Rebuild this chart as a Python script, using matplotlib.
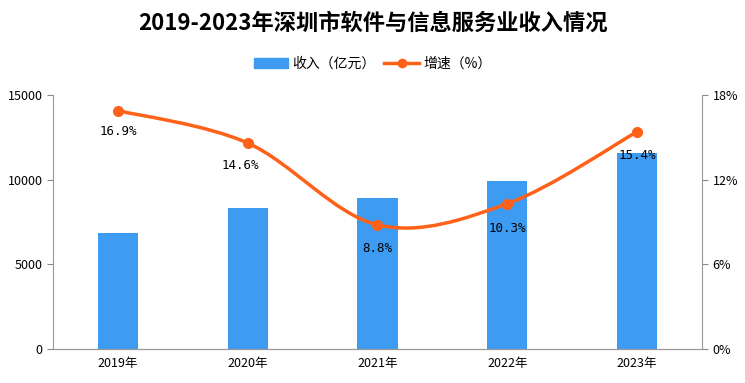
import numpy as np
import matplotlib.pyplot as plt
from matplotlib.path import Path
from matplotlib.patches import PathPatch
from matplotlib.lines import Line2D
from matplotlib.patches import Patch

plt.rcParams['font.family'] = ['Noto Sans CJK SC', 'DejaVu Sans']

# 数据
years = ['2019年', '2020年', '2021年', '2022年', '2023年']
revenue = [6850, 8330, 8920, 9920, 11580]
growth = [16.9, 14.6, 8.8, 10.3, 15.4]

bar_color = '#3d9bf2'
line_color = '#ff6119'

fig = plt.figure(figsize=(7.45, 3.83), dpi=100)
ax = fig.add_axes([0.0711, 0.0888, 0.8712, 0.663])
ax2 = ax.twinx()

x = np.arange(len(years))
ax.bar(x, revenue, width=0.31, color=bar_color, zorder=2)
ax.set_xlim(-0.5, len(years) - 0.5)
ax.set_ylim(0, 15000)
ax.set_yticks([0, 5000, 10000, 15000])
ax.set_xticks(x)
ax.set_xticklabels(years, fontsize=9)
ax.tick_params(axis='x', length=0, pad=6)
ax.tick_params(axis='y', labelsize=9, length=4, color='#888888', direction='out')

# 平滑曲线 (Catmull-Rom -> Bezier)
pts = list(zip(x, growth))
verts = [pts[0]]
codes = [Path.MOVETO]
for i in range(len(pts) - 1):
    p0 = pts[i - 1] if i > 0 else pts[i]
    p1 = pts[i]
    p2 = pts[i + 1]
    p3 = pts[i + 2] if i + 2 < len(pts) else pts[i + 1]
    c1 = (p1[0] + (p2[0] - p0[0]) / 6, p1[1] + (p2[1] - p0[1]) / 6)
    c2 = (p2[0] - (p3[0] - p1[0]) / 6, p2[1] - (p3[1] - p1[1]) / 6)
    verts += [c1, c2, p2]
    codes += [Path.CURVE4] * 3
ax2.add_patch(PathPatch(Path(verts, codes), fill=False, edgecolor=line_color, lw=2.5, zorder=3))
ax2.plot(x, growth, 'o', color=line_color, markersize=7, zorder=4)
ax2.set_ylim(0, 18)
ax2.set_yticks([0, 6, 12, 18])
ax2.set_yticklabels(['0%', '6%', '12%', '18%'])
ax2.tick_params(axis='y', labelsize=9, length=4, color='#888888', direction='out')

offsets = [-15, -16, -17, -18, -17]
dx = [0, -0.06, 0, 0, 0]
for xi, g, oy, ox in zip(x, growth, offsets, dx):
    ax2.annotate(f'{g}%', (xi + ox, g), xytext=(0, oy), textcoords='offset points',
                 ha='center', va='center', fontsize=9, family='DejaVu Sans Mono', zorder=5)

for a in (ax, ax2):
    a.spines['top'].set_visible(False)
    for s in ('left', 'right', 'bottom'):
        a.spines[s].set_color('#999999')
ax.spines['right'].set_visible(False)
ax2.spines['left'].set_visible(False)

fig.text(0.5, 0.94, '2019-2023年深圳市软件与信息服务业收入情况', ha='center', va='center',
         fontsize=16, fontweight='bold')

handles = [Patch(color=bar_color),
           Line2D([0], [0], color=line_color, lw=2.5, marker='o', markersize=6)]
fig.legend(handles, ['收入（亿元）', '增速（%）'], loc='center', bbox_to_anchor=(0.5, 0.833),
           ncol=2, frameon=False, fontsize=10, handlelength=2.5, handleheight=0.8,
           columnspacing=0.6, handletextpad=0.3)

fig.savefig('out.png', dpi=100)
